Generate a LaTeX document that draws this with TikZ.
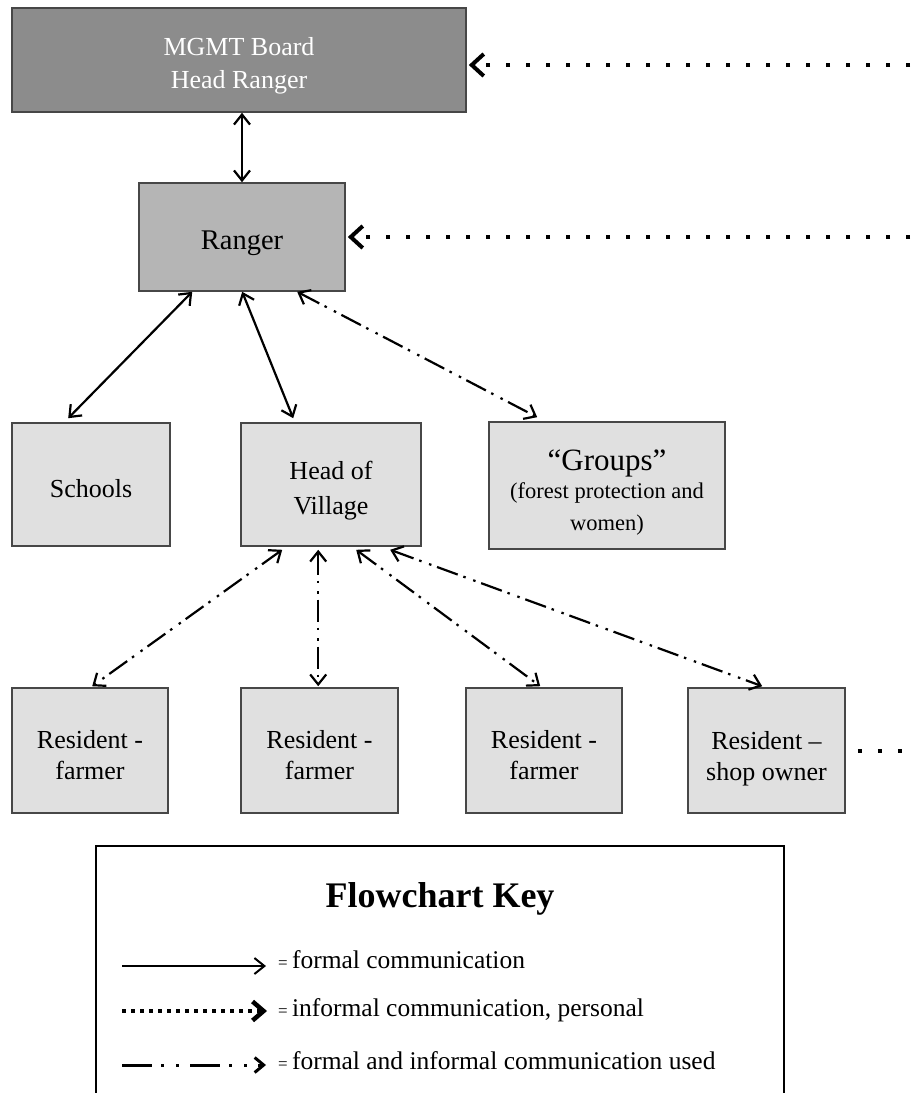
\documentclass[tikz,border=0pt]{standalone}
\usepackage{fontspec}
\setmainfont{Liberation Serif}
\usetikzlibrary{arrows.meta,calc}

\begin{document}
\begin{tikzpicture}[x=1pt,y=-1pt,
  box/.style={draw=black!72, line width=1.6pt, inner sep=0pt},
  darkbox/.style={box, fill=black!45},
  midbox/.style={box, fill=black!29},
  lightbox/.style={box, fill=black!12},
  boxtext/.style={align=center, inner sep=0pt, font=\fontsize{26}{32}\selectfont},
  formal/.style={line width=2.2pt, {Straight Barb[length=10pt,width=16pt]}-{Straight Barb[length=10pt,width=16pt]}},
  mixed/.style={line width=2.2pt, dash pattern=on 22pt off 6pt on 2.5pt off 8pt on 2.5pt off 6pt,
    {Straight Barb[length=10pt,width=16pt]}-{Straight Barb[length=10pt,width=16pt]}},
  informal/.style={line width=4pt, dash pattern=on 4pt off 16pt,
    -{Straight Barb[length=12pt,width=22pt,line width=4pt]}},
  informalline/.style={line width=4pt, dash pattern=on 4pt off 16pt},
  keytext/.style={anchor=base west, inner sep=0pt, font=\fontsize{25.5}{30}\selectfont},
]
\useasboundingbox (0,0) rectangle (917,1093);
\clip (0,0) rectangle (917,1093);

% organisation boxes
\node[darkbox, minimum width=454pt, minimum height=104pt] (mgmt) at (239,60) {};
\node[midbox, minimum width=206pt, minimum height=108pt] (ranger) at (242,237) {};
\node[lightbox, minimum width=158pt, minimum height=123pt] (schools) at (91,484.5) {};
\node[lightbox, minimum width=180pt, minimum height=123pt] (head) at (331,484.5) {};
\node[lightbox, minimum width=236pt, minimum height=127pt] (groups) at (607,485.5) {};
\node[lightbox, minimum width=156pt, minimum height=125pt] (r1) at (90,750.5) {};
\node[lightbox, minimum width=157pt, minimum height=125pt] (r2) at (319.5,750.5) {};
\node[lightbox, minimum width=156pt, minimum height=125pt] (r3) at (544,750.5) {};
\node[lightbox, minimum width=157pt, minimum height=125pt] (r4) at (766.5,750.5) {};

% box captions
\node[boxtext, text=white, font=\fontsize{26}{33}\selectfont] (mgmt-t) at ([yshift=-6pt]mgmt.center) {MGMT Board\\Head Ranger};
\node[boxtext, font=\fontsize{28.5}{34}\selectfont] (ranger-t) at ([yshift=-6pt]ranger.center) {Ranger};
\node[boxtext] (schools-t) at ([yshift=-4pt]schools.center) {Schools};
\node[boxtext, font=\fontsize{26}{35}\selectfont] (head-t) at ([yshift=-6pt]head.center) {Head of\\Village};
\node[boxtext] (groups-t) at ([yshift=-7pt]groups.center)
  {{\fontsize{31}{30}\selectfont “Groups”}\\[-4pt]{\fontsize{22.5}{28}\selectfont (forest protection and}\\{\fontsize{22.5}{28}\selectfont women)}};
\node[boxtext, font=\fontsize{26}{31}\selectfont] (r1-t) at ([yshift=-5pt]r1.center) {Resident -\\farmer};
\node[boxtext, font=\fontsize{26}{31}\selectfont] (r2-t) at ([yshift=-5pt]r2.center) {Resident -\\farmer};
\node[boxtext, font=\fontsize{26}{31}\selectfont] (r3-t) at ([yshift=-5pt]r3.center) {Resident -\\farmer};
\node[boxtext, font=\fontsize{26}{31}\selectfont] (r4-t) at ([yshift=-8pt]r4.center) {Resident –\\shop owner};

% loose ends of the personal lines, beyond the right edge
\coordinate (e1) at (930,65);
\coordinate (e2) at (930,237);
\coordinate (e3) at (930,751);

% connectors
\draw[formal] (ranger.north) -- (ranger.north |- mgmt.south);
\draw[informal] (e1) -- ([xshift=2pt]mgmt.east |- e1);
\draw[informal] (e2) -- ([xshift=2pt]ranger.east |- e2);
\draw[informalline] ([xshift=12pt]r4.east |- e3) -- (e3);

\draw[formal] ([xshift=54pt]ranger.south west) -- ([xshift=57pt,yshift=4pt]schools.north west);
\draw[formal] ([xshift=104pt]ranger.south west) -- ([xshift=53pt,yshift=4pt]head.north west);
\draw[mixed] ([xshift=159pt]ranger.south west) -- ([xshift=49pt,yshift=4pt]groups.north west);

\draw[mixed] ([xshift=42pt,yshift=-3pt]head.south west) -- ([xshift=81pt,yshift=1pt]r1.north west);
\draw[mixed] ([xshift=78pt,yshift=-3pt]head.south west) -- ([xshift=78pt,yshift=1pt]r2.north west);
\draw[mixed] ([xshift=116pt,yshift=-3pt]head.south west) -- ([xshift=75pt,yshift=1pt]r3.north west);
\draw[mixed] ([xshift=150pt,yshift=-3pt]head.south west) -- ([xshift=75pt,yshift=1pt]r4.north west);

% key
\node[draw, line width=2pt, anchor=north west, minimum width=688pt, minimum height=270pt, inner sep=0pt] (keybox) at (95,845) {};
\node[font=\bfseries\fontsize{36}{40}\selectfont, anchor=base] (keytitle) at (440,907) {Flowchart Key};

\coordinate (k1a) at (122,966);
\coordinate (k1b) at (266,966);
\coordinate (k2a) at (122,1011);
\coordinate (k2b) at (267,1011);
\coordinate (k3a) at (122,1065);
\coordinate (k3b) at (266,1065);
\draw[line width=2pt, -{Straight Barb[length=10pt,width=16pt]}] (k1a) -- (k1b);
\draw[line width=3.5pt, dash pattern=on 3.5pt off 5.5pt, -{Straight Barb[length=11pt,width=19pt,line width=4.5pt]}] (k2a) -- (k2b);
\draw[line width=3pt, dash pattern=on 30pt off 9pt on 3pt off 12pt on 3pt off 11pt, -{Straight Barb[length=9pt,width=15pt,line width=3pt]}] (k3a) -- (k3b);

\node[keytext] (k1t) at (278,968) {{\fontsize{17}{17}\selectfont=}\,formal communication};
\node[keytext] (k2t) at (278,1016) {{\fontsize{17}{17}\selectfont=}\,informal communication, personal};
\node[keytext] (k3t) at (278,1069) {{\fontsize{17}{17}\selectfont=}\,formal and informal communication used};
\end{tikzpicture}
\end{document}
